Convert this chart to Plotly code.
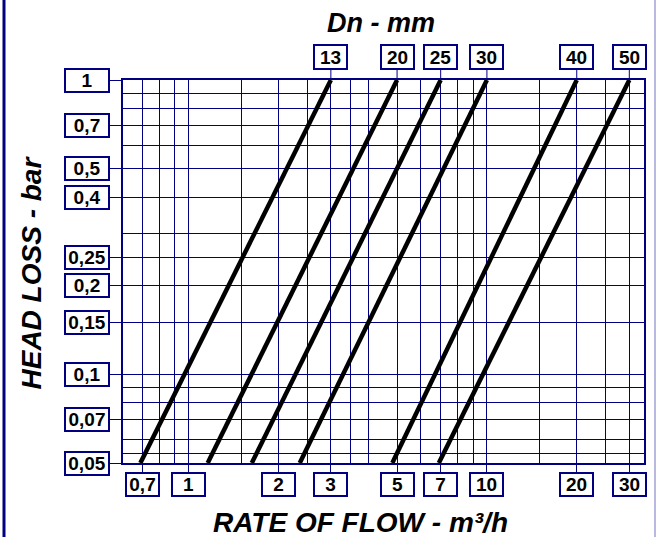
import math
import plotly.graph_objects as go

# ---- data ----
dn_labels = ["13", "20", "25", "30", "40", "50"]
flow_at_min_loss = [0.69, 1.16, 1.63, 2.36, 4.82, 6.9]   # m3/h at 0.05 bar
flow_at_max_loss = [3, 5, 7, 10, 20, 30]                 # m3/h at 1 bar
loss_min, loss_max = 0.05, 1.0

x_tick_vals = [0.7, 1, 2, 3, 5, 7, 10, 20, 30]
x_tick_text = ["0,7", "1", "2", "3", "5", "7", "10", "20", "30"]
x_minor_vals = [0.8, 0.9, 1.5, 2.5, 3.5, 4, 6, 8, 9, 15, 25]

y_tick_vals = [1, 0.7, 0.5, 0.4, 0.25, 0.2, 0.15, 0.1, 0.07, 0.05]
y_tick_text = ["1", "0,7", "0,5", "0,4", "0,25", "0,2", "0,15", "0,1", "0,07", "0,05"]
y_minor_vals = [0.9, 0.8, 0.6, 0.3, 0.09, 0.08, 0.06, 0.054]

x_range = [0.6035, 33.6]

NAVY = "#000080"
FONT = "Liberation Sans, Arial, sans-serif"
BOX_FONT = 19

fig = go.Figure()
for i, dn in enumerate(dn_labels):
    fig.add_trace(go.Scatter(
        x=[flow_at_min_loss[i], flow_at_max_loss[i]],
        y=[loss_min, loss_max],
        mode="lines",
        line=dict(color="black", width=4.5),
        name="Dn " + dn,
        hoverinfo="skip",
    ))

annotations = []
shapes = []

# bottom boxes (flow)
for v, t in zip(x_tick_vals, x_tick_text):
    annotations.append(dict(
        x=math.log10(v), xref="x", y=0, yref="paper",
        xanchor="center", yanchor="top", yshift=-9,
        text="<b>" + t + "</b>", showarrow=False,
        font=dict(family=FONT, size=BOX_FONT, color="black"),
        bgcolor="white", bordercolor=NAVY, borderwidth=2, borderpad=0,
        width=31, height=21,
    ))

# left boxes (head loss)
for v, t in zip(y_tick_vals, y_tick_text):
    annotations.append(dict(
        x=0, xref="paper", y=math.log10(v), yref="y",
        xanchor="right", yanchor="middle", xshift=-13,
        text="<b>" + t + "</b>", showarrow=False,
        font=dict(family=FONT, size=BOX_FONT, color="black"),
        bgcolor="white", bordercolor=NAVY, borderwidth=2, borderpad=0,
        width=42, height=21,
    ))

# top boxes (Dn)
for v, t in zip(flow_at_max_loss, dn_labels):
    annotations.append(dict(
        x=math.log10(v), xref="x", y=1, yref="paper",
        xanchor="center", yanchor="bottom", yshift=10,
        text="<b>" + t + "</b>", showarrow=False,
        font=dict(family=FONT, size=BOX_FONT, color="black"),
        bgcolor="white", bordercolor=NAVY, borderwidth=2, borderpad=0,
        width=31, height=22,
    ))
    shapes.append(dict(
        type="line", xref="x", x0=v, x1=v,
        yref="paper", ysizemode="pixel", yanchor=1, y0=0, y1=10,
        line=dict(color=NAVY, width=1),
    ))

# titles
annotations.append(dict(
    x=0.495, xref="paper", y=1, yref="paper", yanchor="middle", yshift=57,
    text="<b><i>Dn - mm</i></b>", showarrow=False,
    font=dict(family=FONT, size=27, color="black"),
))
annotations.append(dict(
    x=0.455, xref="paper", y=0, yref="paper", yanchor="middle", yshift=-59,
    text="<b><i>RATE OF FLOW - m³/h</i></b>", showarrow=False,
    font=dict(family=FONT, size=28, color="black"),
))
annotations.append(dict(
    x=0, xref="paper", y=0.5, yref="paper", xanchor="center", xshift=-92, yshift=-1,
    text="<b><i>HEAD LOSS - bar</i></b>", showarrow=False, textangle=-90,
    font=dict(family=FONT, size=28, color="black"),
))

# outer frame edges
shapes.append(dict(type="line", xref="paper", xsizemode="pixel", xanchor=0, x0=-119, x1=-119,
                   yref="paper", y0=-0.3, y1=1.3, line=dict(color=NAVY, width=3)))
shapes.append(dict(type="line", xref="paper", xsizemode="pixel", xanchor=1, x0=11, x1=11,
                   yref="paper", y0=-0.3, y1=1.3, line=dict(color="#b8b8e0", width=2)))

fig.update_layout(
    width=658, height=537,
    margin=dict(l=123, r=14, t=80, b=74, autoexpand=False),
    paper_bgcolor="white", plot_bgcolor="white",
    showlegend=False, hovermode=False,
    annotations=annotations, shapes=shapes,
    xaxis=dict(
        type="log", range=[math.log10(x_range[0]), math.log10(x_range[1])],
        tickmode="array", tickvals=x_tick_vals, showticklabels=False,
        ticks="outside", ticklen=9, tickcolor=NAVY, tickwidth=1,
        showgrid=True, gridcolor=NAVY, gridwidth=1,
        minor=dict(tickmode="array", tickvals=x_minor_vals, showgrid=True,
                   gridcolor=NAVY, gridwidth=1, ticks=""),
        showline=True, linecolor=NAVY, linewidth=2, mirror=True, zeroline=False,
    ),
    yaxis=dict(
        type="log", range=[math.log10(loss_min), math.log10(loss_max)],
        tickmode="array", tickvals=y_tick_vals, showticklabels=False,
        ticks="outside", ticklen=13, tickcolor=NAVY, tickwidth=1,
        showgrid=True, gridcolor=NAVY, gridwidth=1,
        minor=dict(tickmode="array", tickvals=y_minor_vals, showgrid=True,
                   gridcolor=NAVY, gridwidth=1, ticks=""),
        showline=True, linecolor=NAVY, linewidth=2, mirror=True, zeroline=False,
    ),
)

fig.write_html(
    "out.html",
    config={"displayModeBar": False, "staticPlot": True},
    post_script="document.body.style.margin='0px';document.body.style.overflow='hidden';",
)
